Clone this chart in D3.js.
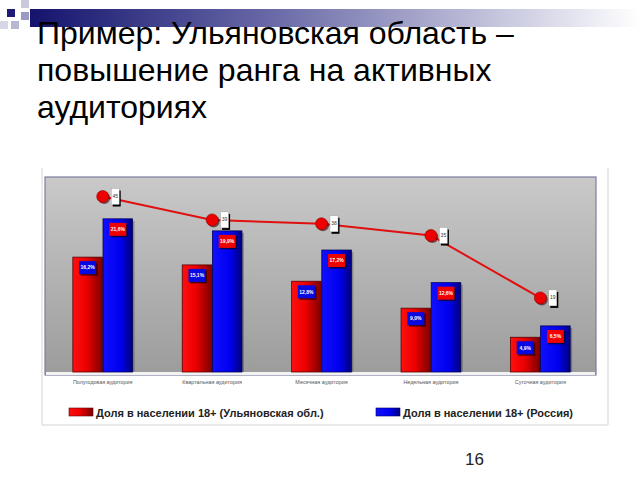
<!DOCTYPE html>
<html><head><meta charset="utf-8">
<script src="https://cdn.jsdelivr.net/npm/d3@7/dist/d3.min.js"></script>
<style>body{margin:0;background:#fff}svg{display:block}</style>
</head><body>
<script>
const titleLines = ["Пример: Ульяновская область –", "повышение ранга на активных", "аудиториях"];
const categories = ["Полугодовая аудитория", "Квартальная аудитория", "Месячная аудитория", "Недельная аудитория", "Суточная аудитория"];
const seriesNames = ["Доля в населении 18+ (Ульяновская обл.)", "Доля в населении 18+ (Россия)"];
const regionShare = [16.2, 15.1, 12.8, 9.0, 4.9];
const russiaShare = [21.6, 19.9, 17.2, 12.6, 6.5];
const rankValues = [45, 39, 38, 35, 19];
const pageNumber = "16";

const W = 640, H = 480;
const svg = d3.select("body").append("svg").attr("width", W).attr("height", H);
const defs = svg.append("defs");

// gradients
const band = defs.append("linearGradient").attr("id","band").attr("x1","0").attr("x2","1").attr("y1","0").attr("y2","0");
band.append("stop").attr("offset","0").attr("stop-color","#14146e");
band.append("stop").attr("offset","0.4").attr("stop-color","#6a6aa8");
band.append("stop").attr("offset","1").attr("stop-color","#ffffff");
const plotG = defs.append("linearGradient").attr("id","plotbg").attr("x1","0").attr("x2","0").attr("y1","0").attr("y2","1");
plotG.append("stop").attr("offset","0").attr("stop-color","#c9c9c9");
plotG.append("stop").attr("offset","1").attr("stop-color","#9c9c9c");
const redG = defs.append("linearGradient").attr("id","redbar").attr("x1","0").attr("x2","1").attr("y1","0").attr("y2","0");
redG.append("stop").attr("offset","0").attr("stop-color","#ff1010");
redG.append("stop").attr("offset","0.45").attr("stop-color","#ee0000");
redG.append("stop").attr("offset","1").attr("stop-color","#7a0000");
const blueG = defs.append("linearGradient").attr("id","bluebar").attr("x1","0").attr("x2","1").attr("y1","0").attr("y2","0");
blueG.append("stop").attr("offset","0").attr("stop-color","#1010ff");
blueG.append("stop").attr("offset","0.6").attr("stop-color","#0000ee");
blueG.append("stop").attr("offset","1").attr("stop-color","#00007a");

// slide decoration
svg.append("rect").attr("x",30).attr("y",9).attr("width",610).attr("height",18).attr("fill","url(#band)");
const sq = [[7,9,8,8,"#1c1c78"],[21,0,8,8,"#c9c9dd"],[21,12,8,8,"#9a9ac4"],[0,21,8,8,"#d6d6e6"],[11,21,8,8,"#b8b8d4"]];
svg.selectAll("rect.sq").data(sq).enter().append("rect").attr("class","sq")
  .attr("x",d=>d[0]).attr("y",d=>d[1]).attr("width",d=>d[2]).attr("height",d=>d[3]).attr("fill",d=>d[4]);

// title
svg.append("g").selectAll("text").data(titleLines).enter().append("text")
  .attr("x",37).attr("y",(d,i)=>44+i*37)
  .attr("font-family","Liberation Sans, Arial, sans-serif").attr("font-size",32).attr("fill","#000")
  .text(d=>d);

// chart frame
svg.append("path").attr("d","M42,168V425H608V168").attr("fill","none").attr("stroke","#d4d4d4").attr("stroke-width",1);

// plot area
const pL=45, pR=596, pT=177, pB=375, baseY=372;
svg.append("rect").attr("x",pL).attr("y",pT).attr("width",pR-pL).attr("height",pB-pT)
  .attr("fill","url(#plotbg)").attr("stroke","#7c7ca0").attr("stroke-width",1.2);
svg.append("rect").attr("x",pL+1).attr("y",baseY).attr("width",pR-pL-2).attr("height",3).attr("fill","#f2f2f2");

const x0 = d3.scaleBand().domain(categories).range([48,595]).paddingInner(0.443).paddingOuter(0.2215);
const x1 = d3.scaleBand().domain([0,1]).range([0,x0.bandwidth()]).padding(0.02);
const y = d3.scaleLinear().domain([0,27.5]).range([baseY,pT]);
const y2 = d3.scaleLinear().domain([0,50]).range([baseY,pT]);

const rows = categories.map((c,i)=>({c, vals:[regionShare[i], russiaShare[i]]}));
const fmt = v => d3.format(".1f")(v).replace(".",",")+"%";

const groups = svg.append("g").selectAll("g").data(rows).enter().append("g")
  .attr("transform",d=>`translate(${x0(d.c)},0)`);
// shadows
groups.selectAll("rect.sh").data(d=>d.vals).enter().append("rect").attr("class","sh")
  .attr("x",(d,i)=>x1(i)+2).attr("y",d=>y(d)+2).attr("width",x1.bandwidth()).attr("height",d=>baseY-y(d)-2)
  .attr("fill","#000").attr("opacity",0.25);
groups.selectAll("rect.bar").data(d=>d.vals).enter().append("rect").attr("class","bar")
  .attr("x",(d,i)=>x1(i)).attr("y",d=>y(d)).attr("width",x1.bandwidth()).attr("height",d=>baseY-y(d))
  .attr("fill",(d,i)=>i===0?"url(#redbar)":"url(#bluebar)")
  .attr("stroke",(d,i)=>i===0?"#5a0000":"#00005a").attr("stroke-width",0.8);
// value label boxes
const lblW=17, lblH=13;
groups.selectAll("rect.lsh").data(d=>d.vals).enter().append("rect").attr("class","lsh")
  .attr("x",(d,i)=>x1(i)+x1.bandwidth()/2-lblW/2+1.5).attr("y",d=>y(d)+5.5)
  .attr("width",lblW).attr("height",lblH).attr("fill","#000").attr("opacity",0.6);
groups.selectAll("rect.lbl").data(d=>d.vals).enter().append("rect").attr("class","lbl")
  .attr("x",(d,i)=>x1(i)+x1.bandwidth()/2-lblW/2).attr("y",d=>y(d)+4)
  .attr("width",lblW).attr("height",lblH)
  .attr("fill",(d,i)=>i===0?"#0808e0":"#f00000");
groups.selectAll("text.val").data(d=>d.vals).enter().append("text").attr("class","val")
  .attr("x",(d,i)=>x1(i)+x1.bandwidth()/2).attr("y",d=>y(d)+4+lblH/2+1.8)
  .attr("text-anchor","middle").attr("font-family","Liberation Sans Narrow, Liberation Sans, Arial, sans-serif")
  .attr("font-size",5).attr("font-weight","bold").attr("fill","#fff").text(d=>fmt(d));

// rank line
const cx = c => x0(c)+x0.bandwidth()/2;
const line = d3.line().x((d,i)=>cx(categories[i])).y(d=>y2(d));
svg.append("path").datum(rankValues).attr("d",line).attr("fill","none").attr("stroke","#e01010").attr("stroke-width",2);
const pts = svg.append("g").selectAll("g").data(rankValues).enter().append("g")
  .attr("transform",(d,i)=>`translate(${cx(categories[i])},${y2(d)})`);
pts.append("circle").attr("cx",1.5).attr("cy",1.5).attr("r",6).attr("fill","#400000").attr("opacity",0.6);
pts.append("circle").attr("r",6).attr("fill","#ee0000").attr("stroke","#900000").attr("stroke-width",0.6);
pts.append("rect").attr("x",10).attr("y",-6).attr("width",8).attr("height",16).attr("fill","#000");
pts.append("rect").attr("x",8.5).attr("y",-8).attr("width",8).attr("height",16).attr("fill","#fff").attr("stroke","#999").attr("stroke-width",0.4);
pts.append("text").attr("x",12.5).attr("y",1.5).attr("text-anchor","middle")
  .attr("font-family","Liberation Sans Narrow, Arial, sans-serif").attr("font-size",5).attr("fill","#333").text(d=>d);

// category axis
const ax = svg.append("g").attr("transform",`translate(0,${baseY+6})`)
  .call(d3.axisBottom(x0).tickSize(0).tickPadding(2));
ax.select(".domain").remove();
ax.selectAll("text").attr("font-family","Liberation Sans Narrow, Liberation Sans, Arial, sans-serif")
  .attr("font-size",5.4).attr("fill","#555");

// legend
const legend = svg.append("g");
const legX = [69, 376];
seriesNames.forEach((n,i)=>{
  const g = legend.append("g").attr("transform",`translate(${legX[i]},408)`);
  g.append("rect").attr("x",0).attr("y",0).attr("width",24).attr("height",8)
    .attr("fill",i===0?"url(#redbar)":"url(#bluebar)").attr("stroke",i===0?"#600":"#006").attr("stroke-width",0.6);
  g.append("text").attr("x",27).attr("y",8.5).attr("font-family","Liberation Sans, Arial, sans-serif")
    .attr("font-size",11).attr("font-weight","bold").attr("fill","#222").text(n);
});

// page number
svg.append("text").attr("x",465).attr("y",465).attr("font-family","Liberation Sans, Arial, sans-serif")
  .attr("font-size",17).attr("fill","#222").text(pageNumber);
</script>
</body></html>
